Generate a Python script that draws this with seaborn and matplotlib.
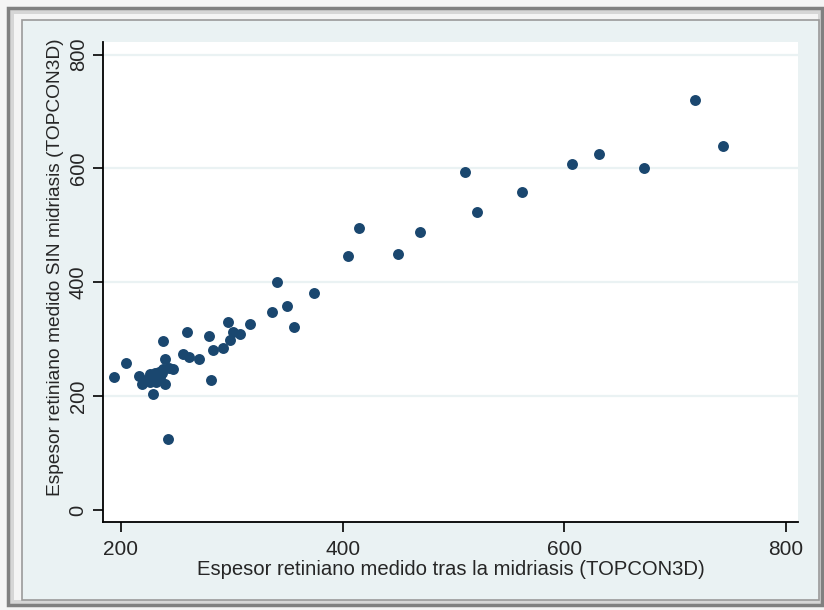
import matplotlib
matplotlib.use("Agg")
import matplotlib.pyplot as plt
import seaborn as sns
import pandas as pd
from matplotlib.patches import Rectangle

# Data
x_tras = [718, 743, 672, 631, 607, 562, 521, 510, 470, 450, 415, 405,
          374, 341, 350, 356, 336, 316, 307, 301, 297, 298, 292, 283,
          281, 279, 270, 261, 256, 260, 247, 243, 242, 238, 240, 240,
          238, 237, 235, 234, 232, 231, 229, 229, 226, 226, 223, 219,
          216, 205, 194]
y_sin = [721, 640, 601, 626, 608, 559, 523, 594, 488, 450, 495, 446,
         382, 400, 358, 322, 347, 327, 309, 312, 330, 299, 284, 281,
         228, 306, 266, 269, 274, 312, 247, 249, 125, 297, 266, 221,
         247, 240, 234, 243, 225, 240, 234, 203, 225, 239, 228, 221,
         235, 259, 234]

x_ticks = [200, 400, 600, 800]
y_ticks = [0, 200, 400, 600, 800]
x_title = "Espesor retiniano medido tras la midriasis (TOPCON3D)"
y_title = "Espesor retiniano medido SIN midriasis (TOPCON3D)"

df = pd.DataFrame({"x": x_tras, "y": y_sin})

sns.set_style("white")
plt.rcParams["font.family"] = ["Liberation Sans", "DejaVu Sans"]

W, H = 824, 610
fig = plt.figure(figsize=(W / 100, H / 100), dpi=100)
fig.patch.set_facecolor("#f4f4f4")

def px_rect(x0, y0, x1, y1, z, **kw):
    r = Rectangle((x0 / W, 1 - y1 / H), (x1 - x0) / W, (y1 - y0) / H,
                  transform=fig.transFigure, figure=fig, **kw)
    r.set_zorder(z)
    return r

# outer frame and panel
fig.patches.append(px_rect(8, 8, 822, 605, -30, facecolor="#d6d6d6",
                           edgecolor="#808080", linewidth=2.5))
fig.patches.append(px_rect(14, 14, 818, 600, -20, facecolor="#f4f4f4",
                           edgecolor="none"))
fig.patches.append(px_rect(22, 20, 819, 600, -10, facecolor="#eaf2f3",
                           edgecolor="#9a9a9a", linewidth=1.2))

ax = fig.add_axes([103 / W, 1 - 522 / H, (798 - 103) / W, (522 - 42) / H])
ax.set_zorder(5)
ax.set_facecolor("white")

sns.scatterplot(data=df, x="x", y="y", ax=ax, color="#1a476f",
                s=62, linewidth=0, zorder=3)

ax.set_xlim(183.8, 810.8)
ax.set_ylim(-21, 822)
ax.set_xticks(x_ticks)
ax.set_yticks(y_ticks)

for v in [200, 400, 600, 800]:
    ax.axhline(v, color="#eaf2f3", linewidth=1.6, zorder=1)

for s in ["top", "right"]:
    ax.spines[s].set_visible(False)
for s in ["left", "bottom"]:
    ax.spines[s].set_color("black")
    ax.spines[s].set_linewidth(1.3)

ax.tick_params(axis="both", direction="out", length=7, width=1.2,
               color="black", left=True, bottom=True)
ax.tick_params(axis="x", labelsize=15, pad=6)
ax.tick_params(axis="y", labelsize=14.5, pad=4)
for lab in ax.get_yticklabels():
    lab.set_rotation(90)
    lab.set_va("center")

ax.set_xlabel(x_title, fontsize=14.6, labelpad=1)
ax.set_ylabel(y_title, fontsize=13.8)
ax.yaxis.set_label_coords(-0.069, 0.531)
ax.yaxis.label.set_va("center")

fig.savefig("out.png", dpi=100, facecolor=fig.get_facecolor())
